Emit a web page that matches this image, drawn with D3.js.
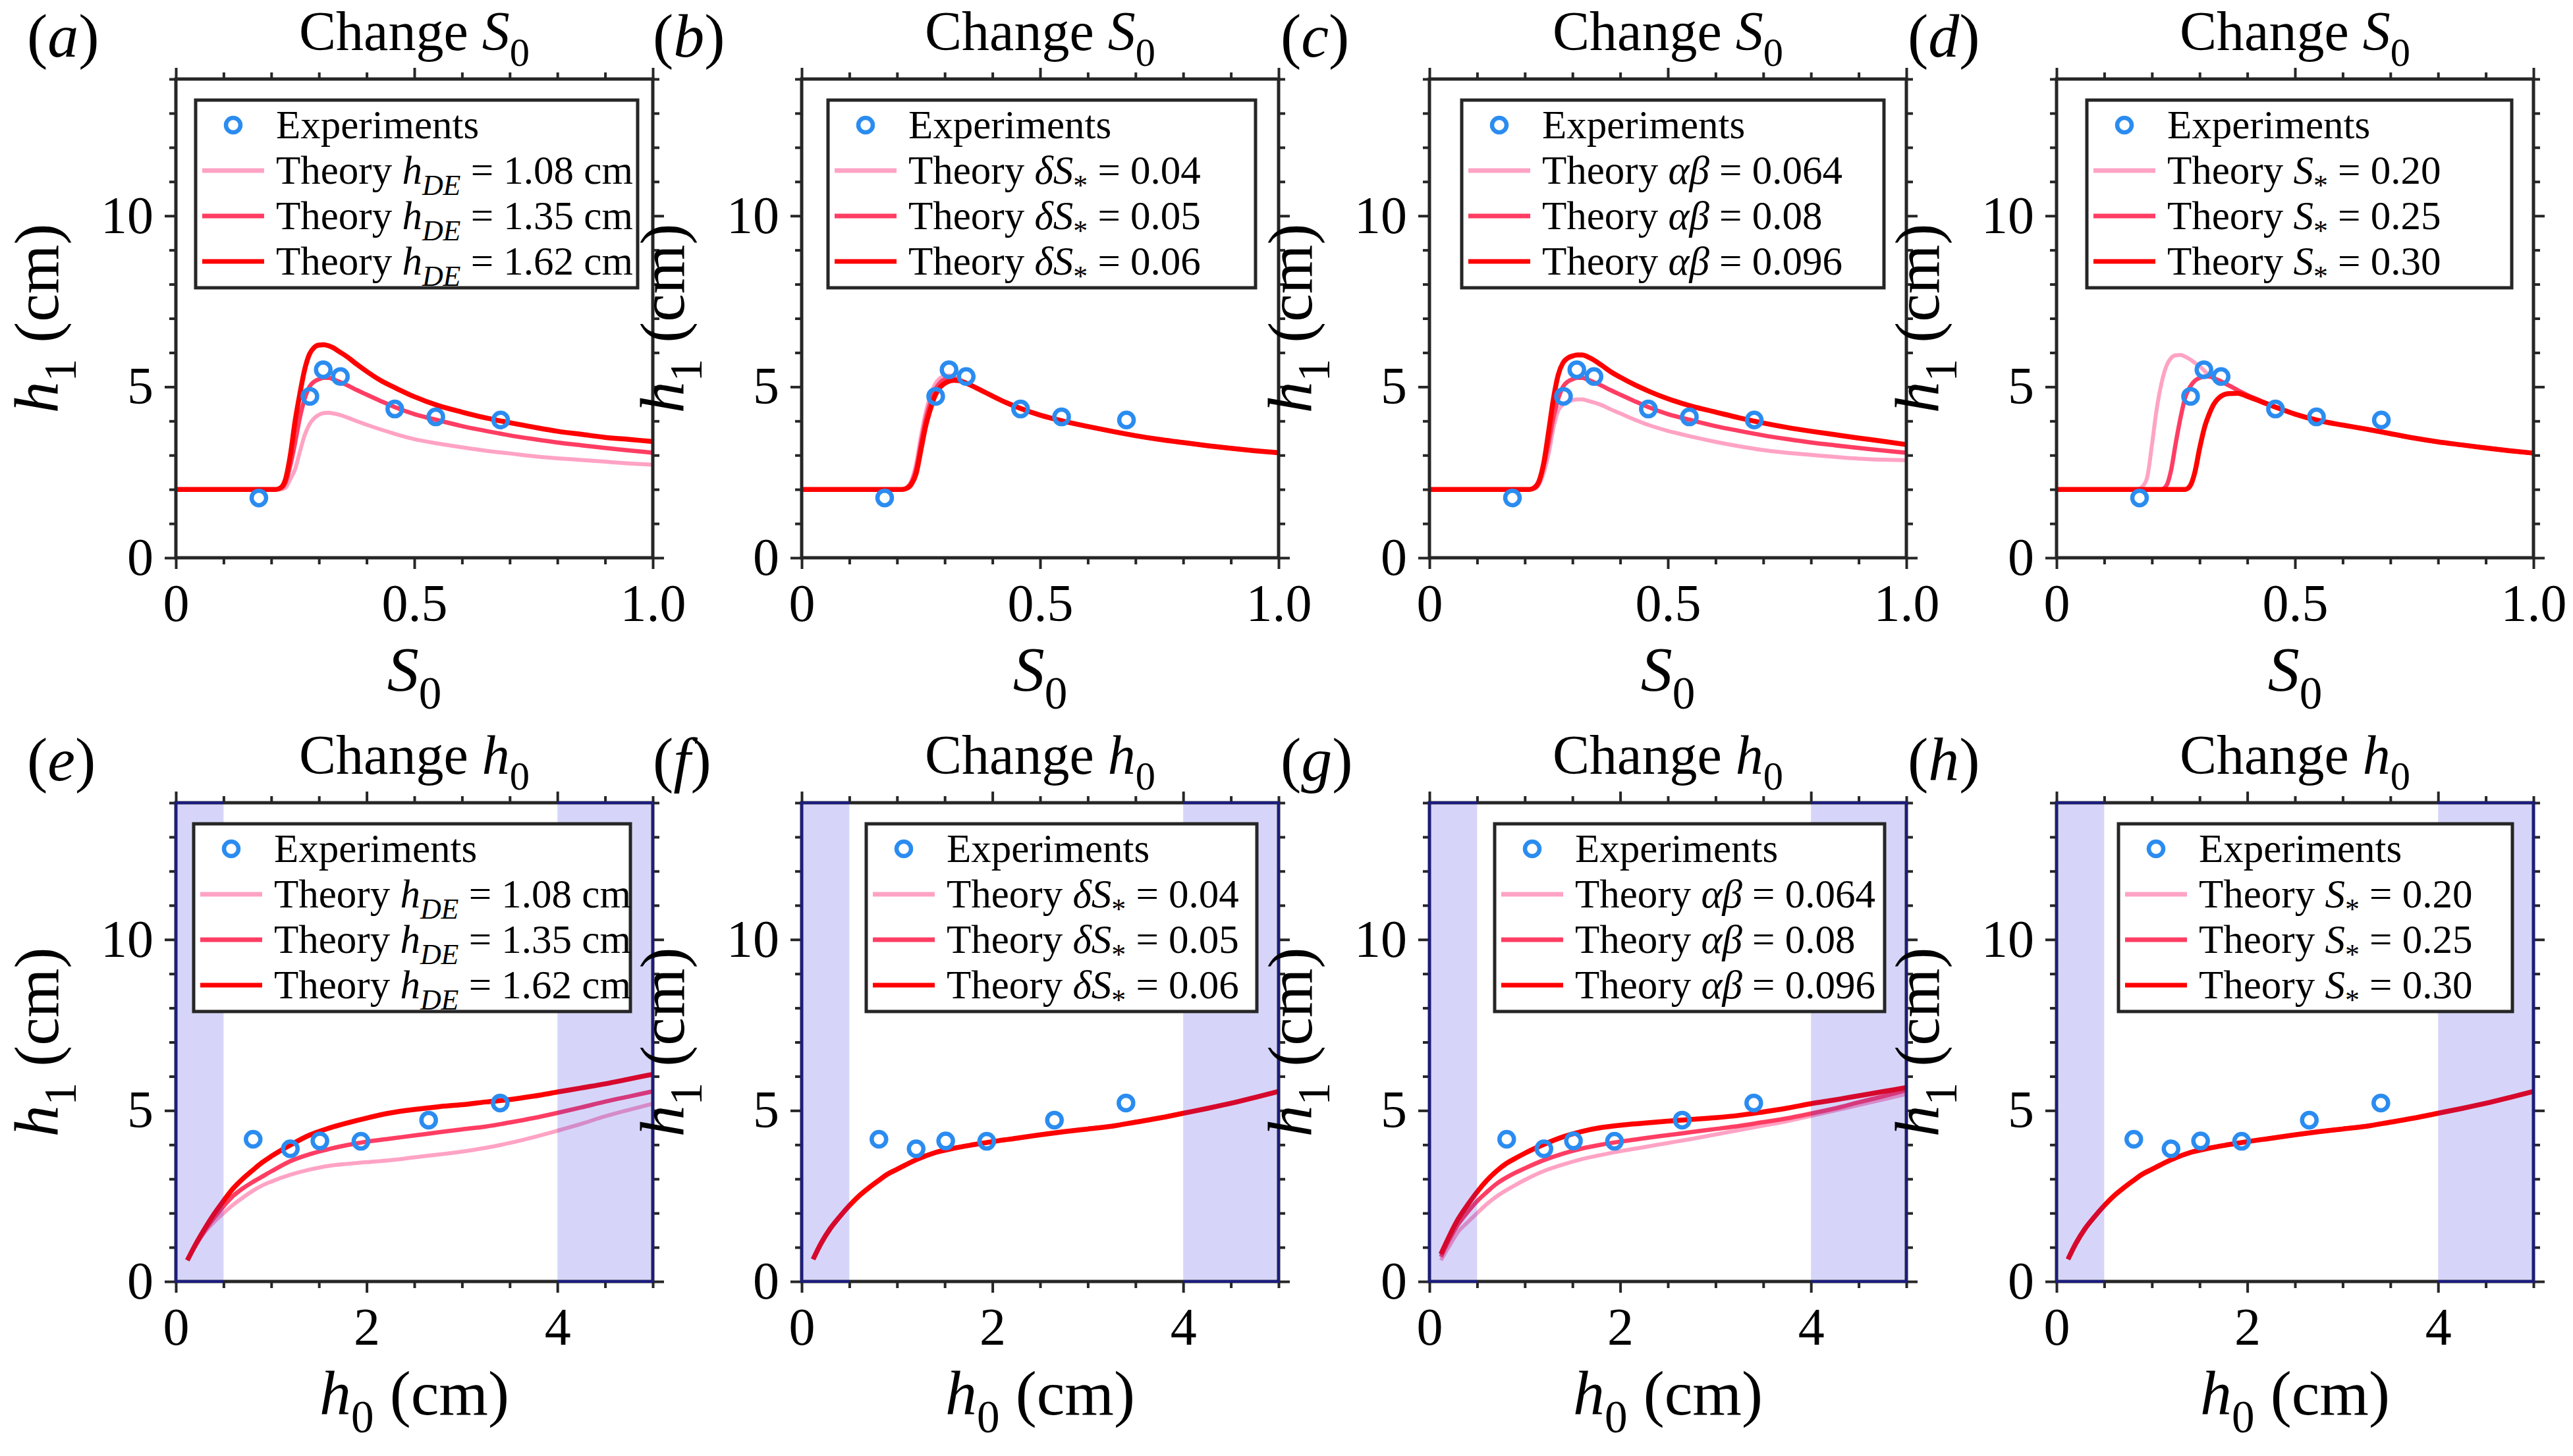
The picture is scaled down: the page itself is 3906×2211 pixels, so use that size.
<!DOCTYPE html>
<html>
<head>
<meta charset="utf-8">
<script src="https://cdn.jsdelivr.net/npm/d3@7"></script>
<style>
  html, body { margin: 0; padding: 0; background: #fff; }
  text { font-family: "Liberation Serif", "Times New Roman", serif; fill: #000; }
</style>
</head>
<body>
<script>
var W = 3906, H = 2211;

// ---- data ----
var s0Grid = [0, 0.17, 0.18, 0.19, 0.20, 0.21, 0.22, 0.23, 0.24, 0.25, 0.26, 0.27, 0.28, 0.29, 0.30,
              0.31, 0.32, 0.33, 0.34, 0.36, 0.38, 0.40, 0.43, 0.46, 0.50, 0.55, 0.60, 0.65, 0.70,
              0.75, 0.80, 0.85, 0.90, 0.95, 1.0];
var h0Grid = [0.12, 0.2, 0.3, 0.4, 0.5, 0.6, 0.7, 0.8, 0.9, 1.0, 1.2, 1.4, 1.6, 1.8, 2.0, 2.25, 2.5,
              2.75, 3.0, 3.25, 3.5, 3.75, 4.0, 4.25, 4.5, 4.75, 5.0];

var expS0   = [0.174, 0.281, 0.309, 0.345, 0.459, 0.545, 0.681];
var expH1S  = [1.75, 4.72, 5.50, 5.30, 4.35, 4.12, 4.03];
var expH0   = [0.81, 1.20, 1.51, 1.94, 2.65, 3.40];
var expH1H  = [4.16, 3.88, 4.11, 4.10, 4.72, 5.22];

// (a) change h_DE
var aPink = [2,2,2,2,2,2,2,2.05,2.3,2.59,3.1,3.58,3.9,4.08,4.18,4.23,4.24,4.22,4.19,4.1,3.99,3.89,3.75,3.62,3.47,3.34,3.23,3.13,3.05,2.97,2.91,2.86,2.81,2.76,2.72];
var aMid  = [2,2,2,2,2,2,2.03,2.2,2.7,3.37,4.1,4.65,5.0,5.15,5.22,5.26,5.26,5.22,5.16,5.04,4.9,4.77,4.58,4.40,4.20,4.02,3.85,3.71,3.58,3.47,3.37,3.29,3.21,3.14,3.07];
var aRed  = [2,2,2,2,2,2,2.05,2.3,3.0,4.0,4.8,5.5,5.95,6.15,6.22,6.23,6.2,6.14,6.05,5.87,5.65,5.45,5.18,4.97,4.71,4.45,4.26,4.09,3.95,3.82,3.70,3.61,3.52,3.46,3.40];
// (b) change dS*
var bPink = [2,2,2,2,2,2,2.05,2.25,2.75,3.55,4.25,4.75,5.08,5.25,5.32,5.33,5.29,5.22,5.15,5.02,4.87,4.73,4.53,4.36,4.17,3.99,3.84,3.70,3.57,3.46,3.37,3.28,3.20,3.13,3.07];
var bMid  = [2,2,2,2,2,2,2.04,2.2,2.6,3.35,4.05,4.55,4.92,5.12,5.22,5.26,5.24,5.2,5.14,5.01,4.87,4.73,4.53,4.36,4.17,3.99,3.84,3.70,3.57,3.46,3.37,3.28,3.20,3.13,3.07];
var bRed  = [2,2,2,2,2,2,2.03,2.15,2.46,3.15,3.85,4.35,4.75,4.98,5.1,5.17,5.19,5.18,5.13,5.01,4.87,4.73,4.53,4.36,4.17,3.99,3.84,3.70,3.57,3.46,3.37,3.28,3.20,3.13,3.07];
// (c) change alpha*beta
var cPink = [2,2,2,2,2,2,2.02,2.15,2.5,3.05,3.8,4.3,4.48,4.56,4.61,4.63,4.63,4.6,4.56,4.47,4.34,4.22,4.04,3.88,3.71,3.54,3.39,3.26,3.15,3.07,3.01,2.95,2.90,2.87,2.85];
var cMid  = [2,2,2,2,2,2,2.03,2.2,2.7,3.37,4.1,4.65,5.0,5.15,5.22,5.26,5.26,5.22,5.16,5.04,4.9,4.77,4.58,4.40,4.20,4.02,3.85,3.71,3.58,3.47,3.37,3.29,3.21,3.14,3.07];
var cRed  = [2,2,2,2,2,2,2.05,2.25,2.8,3.7,4.65,5.35,5.7,5.84,5.9,5.93,5.93,5.89,5.82,5.64,5.44,5.28,5.06,4.87,4.65,4.43,4.26,4.09,3.94,3.81,3.70,3.60,3.50,3.41,3.31];
// (d) change S*
var dPink = [2,2.0,2.08,2.35,3.3,4.35,5.1,5.6,5.84,5.92,5.93,5.88,5.8,5.7,5.6,5.47,5.34,5.26,5.19,5.05,4.9,4.76,4.58,4.40,4.20,4.01,3.88,3.76,3.63,3.50,3.39,3.30,3.21,3.13,3.06];
var dMid  = [2,2,2,2,2,2,2,2.1,2.55,3.36,4.1,4.7,5.0,5.18,5.26,5.3,5.3,5.25,5.19,5.05,4.9,4.76,4.58,4.40,4.20,4.01,3.88,3.76,3.63,3.50,3.39,3.30,3.21,3.13,3.06];
var dRed  = [2,2,2,2,2,2,2,2,2,2,2,2,2.1,2.5,3.2,3.8,4.2,4.5,4.67,4.8,4.81,4.72,4.56,4.40,4.20,4.01,3.88,3.76,3.63,3.50,3.39,3.30,3.21,3.13,3.06];

// (e) change h_DE
var ePink = [0.62,1.02,1.43,1.74,2.0,2.24,2.45,2.64,2.8,2.92,3.12,3.27,3.38,3.44,3.49,3.55,3.63,3.71,3.8,3.91,4.05,4.22,4.41,4.61,4.83,5.02,5.20];
var eMid  = [0.62,1.03,1.48,1.86,2.2,2.5,2.72,2.9,3.06,3.22,3.52,3.72,3.87,3.99,4.09,4.18,4.27,4.36,4.45,4.53,4.65,4.78,4.93,5.09,5.26,5.41,5.56];
var eRed  = [0.62,1.05,1.53,1.97,2.36,2.72,3.0,3.24,3.47,3.66,3.99,4.28,4.48,4.64,4.78,4.93,5.03,5.11,5.17,5.25,5.32,5.42,5.54,5.66,5.78,5.92,6.06];
// (f) and (h): the three theory curves coincide
var fAll  = [0.65,1.1,1.55,1.9,2.22,2.5,2.73,2.94,3.14,3.28,3.56,3.77,3.9,4.0,4.09,4.19,4.29,4.38,4.46,4.54,4.66,4.78,4.92,5.06,5.21,5.38,5.56];
// (g) change alpha*beta
var gPink = [0.62,1.0,1.45,1.73,2.0,2.26,2.48,2.66,2.82,2.97,3.23,3.42,3.58,3.7,3.81,3.93,4.05,4.17,4.3,4.43,4.56,4.69,4.84,5.0,5.16,5.32,5.48];
var gMid  = [0.72,1.18,1.67,2.03,2.35,2.61,2.85,3.03,3.18,3.31,3.55,3.74,3.89,4.0,4.09,4.19,4.28,4.37,4.46,4.55,4.66,4.77,4.91,5.06,5.24,5.41,5.59];
var gRed  = [0.8,1.28,1.82,2.24,2.62,2.95,3.22,3.44,3.6,3.75,4.01,4.23,4.39,4.5,4.57,4.63,4.69,4.74,4.79,4.86,4.96,5.07,5.2,5.31,5.43,5.55,5.67];

var hdeValues   = ['1.08', '1.35', '1.62'];
var dsValues    = ['0.04', '0.05', '0.06'];
var abValues    = ['0.064', '0.08', '0.096'];
var sstarValues = ['0.20', '0.25', '0.30'];

var s0MajorTicks  = [0, 0.5, 1.0];
var s0TickLabels  = ['0', '0.5', '1.0'];
var s0MinorTicks  = [0.1, 0.2, 0.3, 0.4, 0.6, 0.7, 0.8, 0.9];
var h0MajorTicks  = [0, 2, 4];
var h0TickLabels  = ['0', '2', '4'];
var h0MinorTicks  = [0.5, 1, 1.5, 2.5, 3, 3.5, 4.5, 5];
var yMajorTicks   = [0, 5, 10];
var yMinorTicks   = [1, 2, 3, 4, 6, 7, 8, 9, 11, 12, 13, 14];
var shadeBands    = [[0, 0.5], [4, 5]];

// ---- layout ----
var colLeft = [267, 1217, 2170, 3122],
    rowTop  = [120, 1219],
    pw = 724, ph = 727,
    axisColor = '#262626',
    navy = '#1c1c80',
    colors = ['#ffa3c4', '#ff3d63', '#ff0000'],
    widths = [6, 6.5, 7.5],
    expColor = '#2b8cf0';

var svg = d3.select('body').append('svg').attr('width', W).attr('height', H);
svg.append('rect').attr('width', W).attr('height', H).attr('fill', '#fff');

// rich text helper: segs = [[text, italic, sub]]
function rich(sel, segs, size) {
  var shift = 0;
  segs.forEach(function(s) {
    var target = s[2] ? size * 0.28 : 0;
    sel.append('tspan')
      .attr('dy', target - shift)
      .attr('font-size', s[2] ? size * 0.72 : size)
      .attr('font-style', s[1] ? 'italic' : 'normal')
      .text(s[0]);
    shift = target;
  });
  return sel;
}

function legendLabel(kind, v) {
  if (kind === 'hde') return [['Theory '], ['h', 1], ['DE', 1, 1], [' = ' + v + ' cm']];
  if (kind === 'ds')  return [['Theory '], ['\u03b4S', 1], ['*', 0, 1], [' = ' + v]];
  if (kind === 'ab')  return [['Theory '], ['\u03b1\u03b2', 1], [' = ' + v]];
  return [['Theory '], ['S', 1], ['*', 0, 1], [' = ' + v]];
}

var panels = [
  {id: 'a', row: 0, col: 0, curves: [aPink, aMid, aRed], kind: 'hde', vals: hdeValues, legX: 30, legW: 671},
  {id: 'b', row: 0, col: 1, curves: [bPink, bMid, bRed], kind: 'ds',  vals: dsValues,  legX: 40, legW: 649},
  {id: 'c', row: 0, col: 2, curves: [cPink, cMid, cRed], kind: 'ab',  vals: abValues,  legX: 49, legW: 641},
  {id: 'd', row: 0, col: 3, curves: [dPink, dMid, dRed], kind: 'ss',  vals: sstarValues, legX: 46, legW: 645},
  {id: 'e', row: 1, col: 0, curves: [ePink, eMid, eRed], kind: 'hde', vals: hdeValues, legX: 27, legW: 663},
  {id: 'f', row: 1, col: 1, curves: [fAll, fAll, fAll],  kind: 'ds',  vals: dsValues,  legX: 98, legW: 593},
  {id: 'g', row: 1, col: 2, curves: [gPink, gMid, gRed], kind: 'ab',  vals: abValues,  legX: 99, legW: 592},
  {id: 'h', row: 1, col: 3, curves: [fAll, fAll, fAll],  kind: 'ss',  vals: sstarValues, legX: 94, legW: 598}
];

panels.forEach(function(p) {
  var top = rowTop[p.row], left = colLeft[p.col],
      bottom = top + ph, right = left + pw,
      isS = p.row === 0,
      grid = isS ? s0Grid : h0Grid;

  var x = d3.scaleLinear().domain(isS ? [0, 1] : [0, 5]).range([left, right]);
  var y = d3.scaleLinear().domain([0, 14]).range([bottom, top]);
  var g = svg.append('g').attr('class', 'panel-' + p.id);

  var line = d3.line()
    .x(function(d) { return x(d[0]); })
    .y(function(d) { return y(d[1]); })
    .curve(d3.curveMonotoneX);

  p.curves.forEach(function(c, i) {
    g.append('path')
      .datum(d3.zip(grid, c))
      .attr('d', line)
      .attr('fill', 'none')
      .attr('stroke', colors[i])
      .attr('stroke-width', widths[i])
      .attr('stroke-linejoin', 'round');
  });

  g.selectAll('circle.exp')
    .data(d3.zip(isS ? expS0 : expH0, isS ? expH1S : expH1H))
    .enter().append('circle')
    .attr('class', 'exp')
    .attr('cx', function(d) { return x(d[0]); })
    .attr('cy', function(d) { return y(d[1]); })
    .attr('r', 11)
    .attr('fill', 'none')
    .attr('stroke', expColor)
    .attr('stroke-width', 6.5);

  if (!isS) {
    g.selectAll('rect.shade')
      .data(shadeBands)
      .enter().append('rect')
      .attr('class', 'shade')
      .attr('x', function(d) { return x(d[0]); })
      .attr('width', function(d) { return x(d[1]) - x(d[0]); })
      .attr('y', top)
      .attr('height', ph)
      .attr('fill', '#342de0')
      .attr('fill-opacity', 0.2);
  }

  // axes, ticks outward on all four sides
  var xMaj = isS ? s0MajorTicks : h0MajorTicks,
      xLab = isS ? s0TickLabels : h0TickLabels,
      xMin = isS ? s0MinorTicks : h0MinorTicks;

  function styleAxis(sel) {
    sel.select('.domain').remove();
    sel.selectAll('line').attr('stroke', axisColor).attr('stroke-width', 4);
    sel.selectAll('text').attr('font-size', 80).attr('fill', '#000')
      .style('font-family', '"Liberation Serif", "Times New Roman", serif');
  }

  g.append('g').attr('transform', 'translate(0,' + bottom + ')')
    .call(d3.axisBottom(x).tickValues(xMaj).tickSize(17).tickPadding(22)
      .tickFormat(function(d, i) { return xLab[i]; }))
    .call(styleAxis);
  g.append('g').attr('transform', 'translate(0,' + bottom + ')')
    .call(d3.axisBottom(x).tickValues(xMin).tickSize(10).tickFormat(''))
    .call(styleAxis);
  g.append('g').attr('transform', 'translate(0,' + top + ')')
    .call(d3.axisTop(x).tickValues(xMaj).tickSize(17).tickFormat(''))
    .call(styleAxis);
  g.append('g').attr('transform', 'translate(0,' + top + ')')
    .call(d3.axisTop(x).tickValues(xMin).tickSize(10).tickFormat(''))
    .call(styleAxis);
  g.append('g').attr('transform', 'translate(' + left + ',0)')
    .call(d3.axisLeft(y).tickValues(yMajorTicks).tickSize(17).tickPadding(17))
    .call(styleAxis);
  g.append('g').attr('transform', 'translate(' + left + ',0)')
    .call(d3.axisLeft(y).tickValues(yMinorTicks).tickSize(10).tickFormat(''))
    .call(styleAxis);
  g.append('g').attr('transform', 'translate(' + right + ',0)')
    .call(d3.axisRight(y).tickValues(yMajorTicks).tickSize(17).tickFormat(''))
    .call(styleAxis);
  g.append('g').attr('transform', 'translate(' + right + ',0)')
    .call(d3.axisRight(y).tickValues(yMinorTicks).tickSize(10).tickFormat(''))
    .call(styleAxis);

  g.append('rect')
    .attr('x', left).attr('y', top).attr('width', pw).attr('height', ph)
    .attr('fill', 'none').attr('stroke', axisColor).attr('stroke-width', 5);

  if (!isS) {
    // navy outer edges of the shaded bands
    g.selectAll('path.shade-edge')
      .data(shadeBands)
      .enter().append('path')
      .attr('class', 'shade-edge')
      .attr('d', function(d, i) {
        var xo = x(i === 0 ? d[0] : d[1]), xi = x(i === 0 ? d[1] : d[0]);
        return 'M' + xi + ',' + top + 'H' + xo + 'V' + bottom + 'H' + xi;
      })
      .attr('fill', 'none').attr('stroke', navy).attr('stroke-width', 4);
  }

  // legend
  var bx = left + p.legX, by = top + 32, rows = [38, 107, 176, 245];
  var lg = g.append('g').attr('class', 'legend');
  lg.append('rect')
    .attr('x', bx).attr('y', by).attr('width', p.legW).attr('height', 285)
    .attr('fill', '#fff').attr('stroke', axisColor).attr('stroke-width', 5);
  lg.append('circle')
    .attr('cx', bx + 57).attr('cy', by + rows[0]).attr('r', 11)
    .attr('fill', 'none').attr('stroke', expColor).attr('stroke-width', 6.5);
  lg.append('text')
    .attr('x', bx + 122).attr('y', by + rows[0] + 20)
    .attr('font-size', 61).text('Experiments');
  p.vals.forEach(function(v, i) {
    var ry = by + rows[i + 1];
    lg.append('line')
      .attr('x1', bx + 10).attr('x2', bx + 104).attr('y1', ry).attr('y2', ry)
      .attr('stroke', colors[i]).attr('stroke-width', 7);
    rich(lg.append('text').attr('x', bx + 122).attr('y', ry + 20), legendLabel(p.kind, v), 61);
  });

  // title, panel label, axis labels
  rich(g.append('text').attr('x', (left + right) / 2).attr('y', top - 44)
      .attr('text-anchor', 'middle'),
    [['Change '], [isS ? 'S' : 'h', 1], ['0', 0, 1]], 84);
  rich(g.append('text').attr('x', left - 226).attr('y', top - 34),
    [['('], [p.id, 1], [')']], 94);
  rich(g.append('text')
      .attr('transform', 'translate(' + (left - 179) + ',' + ((top + bottom) / 2) + ') rotate(-90)')
      .attr('text-anchor', 'middle'),
    [['h', 1], ['1', 0, 1], [' (cm)']], 96);
  rich(g.append('text').attr('x', (left + right) / 2).attr('y', bottom + 202)
      .attr('text-anchor', 'middle'),
    isS ? [['S', 1], ['0', 0, 1]] : [['h', 1], ['0', 0, 1], [' (cm)']], 96);
});
</script>
</body>
</html>
